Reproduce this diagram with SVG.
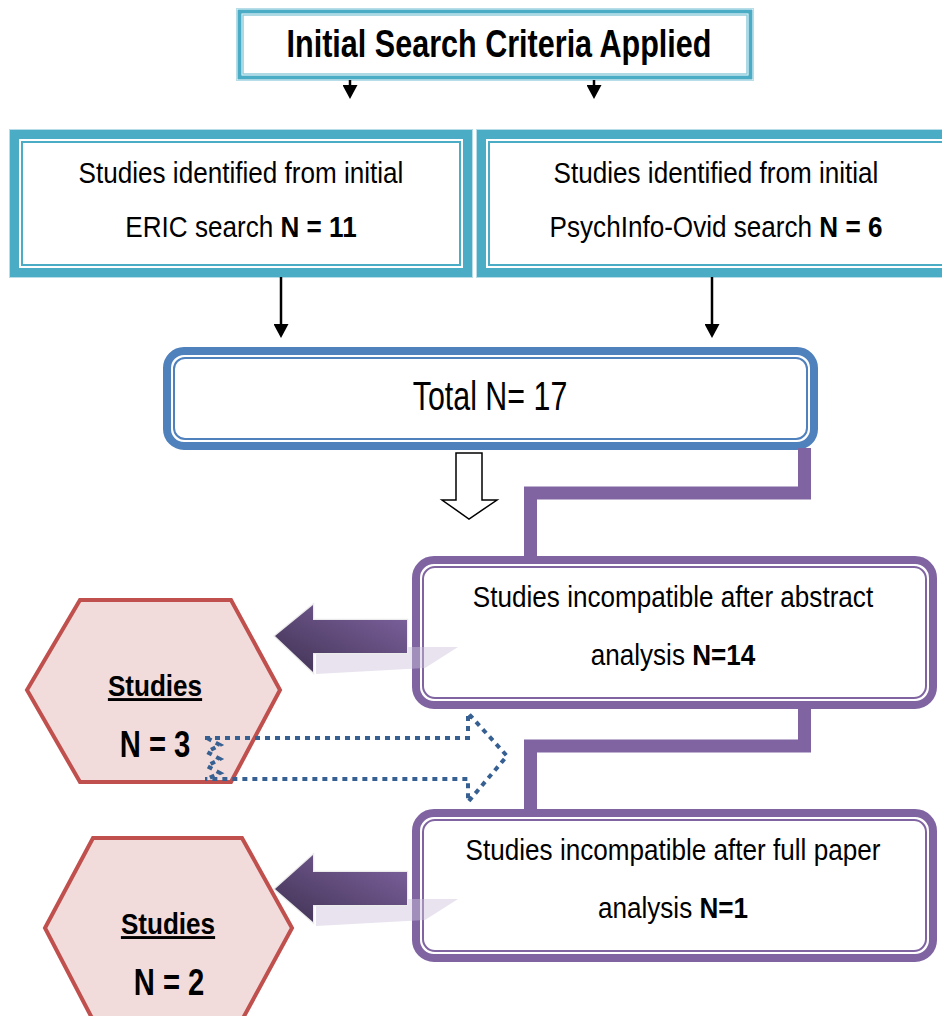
<svg xmlns="http://www.w3.org/2000/svg" width="942" height="1016" viewBox="0 0 942 1016">
  <style>
    .t { font-family: "Liberation Sans", Arial, sans-serif; fill: #000; text-anchor: middle; }
    .body { font-size: 29px; }
    .b { font-weight: bold; }
    .tealBand { fill: none; stroke: #4BACC6; stroke-width: 9; }
    .tealThin { fill: none; stroke: #4BACC6; stroke-width: 2; }
    .tealEdge { fill: none; stroke: #B6DDE8; stroke-width: 1; }
    .purpleBand { fill: #fff; stroke: #8064A2; stroke-width: 8; }
    .purpleThin { fill: none; stroke: #8064A2; stroke-width: 2; }
    .hex { fill: #F2DCDB; stroke: #C0504D; stroke-width: 4; stroke-linejoin: miter; }
    .arrowLine { stroke: #000; stroke-width: 2.5; fill: none; }
    .elbow { fill: none; stroke: #8064A2; stroke-width: 13; stroke-linejoin: miter; }
    .block { fill: url(#blockGrad); stroke: #EBEBEB; stroke-width: 2.5; paint-order: stroke; }
    .blockShadow { fill: #CCC1DA; opacity: 0.45; }
    .dotted { fill: none; stroke: #376092; stroke-width: 4; stroke-dasharray: 5 5; }
  </style>
  <defs>
    <marker id="head" markerUnits="userSpaceOnUse" markerWidth="14" markerHeight="15" viewBox="0 0 14 15" refX="2" refY="7.5" orient="auto">
      <path d="M0,0 L14,7.5 L0,15 z" fill="#000"/>
    </marker>
    <linearGradient id="blockGrad" x1="0" y1="1" x2="1" y2="0">
      <stop offset="0" stop-color="#3F3151"/>
      <stop offset="1" stop-color="#8064A2"/>
    </linearGradient>
  </defs>

  <rect width="942" height="1016" fill="#fff"/>

  <!-- title box -->
  <g id="node-title">
    <rect x="236.5" y="8.5" width="517" height="72" class="tealEdge"/>
    <rect x="239.5" y="11.5" width="511" height="66" fill="#fff" stroke="#4BACC6" stroke-width="4"/>
    <rect x="243" y="15" width="504" height="59" fill="none" stroke="#92CDDC" stroke-width="1.5"/>
    <g transform="translate(499,0) scale(0.804,1)">
      <text class="t b" x="0" y="57" font-size="38">Initial Search Criteria Applied</text>
    </g>
  </g>

  <!-- ERIC search box -->
  <g id="node-eric">
    <rect x="9.5" y="129.5" width="463" height="148" class="tealEdge"/>
    <rect x="14.5" y="134.5" width="453" height="138" fill="#fff" class="tealBand"/>
    <rect x="22" y="142" width="438" height="123" class="tealThin"/>
    <g transform="translate(241,0) scale(0.9,1)">
      <text class="t body" x="0" y="183">Studies identified from initial</text>
      <text class="t body" x="0" y="237">ERIC search <tspan class="b">N = 11</tspan></text>
    </g>
  </g>

  <!-- PsychInfo-Ovid search box -->
  <g id="node-psychinfo">
    <rect x="476.5" y="129.5" width="480" height="148" class="tealEdge"/>
    <rect x="481.5" y="134.5" width="470" height="138" fill="#fff" class="tealBand"/>
    <rect x="489" y="142" width="470" height="123" class="tealThin"/>
    <g transform="translate(716,0) scale(0.9,1)">
      <text class="t body" x="0" y="183">Studies identified from initial</text>
      <text class="t body" x="0" y="237">PsychInfo-Ovid search <tspan class="b">N = 6</tspan></text>
    </g>
  </g>

  <!-- total box -->
  <g id="node-total">
    <rect x="167" y="351" width="647" height="95" rx="17" fill="#fff" stroke="#4F81BD" stroke-width="8"/>
    <rect x="174" y="358" width="633" height="81" rx="11" fill="none" stroke="#4F81BD" stroke-width="2"/>
    <g transform="translate(490,0) scale(0.76,1)">
      <text class="t" x="0" y="410" font-size="40">Total N= 17</text>
    </g>
  </g>

  <!-- abstract screening box -->
  <g id="node-abstract">
    <rect x="416" y="560" width="517" height="145" rx="18" class="purpleBand"/>
    <rect x="423" y="567" width="503" height="131" rx="12" class="purpleThin"/>
    <g transform="translate(673,0) scale(0.9,1)">
      <text class="t body" x="0" y="607">Studies incompatible after abstract</text>
      <text class="t body" x="0" y="665">analysis <tspan class="b">N=14</tspan></text>
    </g>
  </g>

  <!-- full paper screening box -->
  <g id="node-fullpaper">
    <rect x="416" y="813" width="517" height="145" rx="18" class="purpleBand"/>
    <rect x="423" y="820" width="503" height="131" rx="12" class="purpleThin"/>
    <g transform="translate(673,0) scale(0.9,1)">
      <text class="t body" x="0" y="860">Studies incompatible after full paper</text>
      <text class="t body" x="0" y="918">analysis <tspan class="b">N=1</tspan></text>
    </g>
  </g>

  <!-- included studies after abstract screening -->
  <g id="node-included-3">
    <polygon class="hex" points="27,690 80,600 231,600 280,690 231,782 80,782"/>
    <g transform="translate(155,0) scale(0.9,1)">
      <text class="t b" x="0" y="696" font-size="29" text-decoration="underline">Studies</text>
    </g>
    <g transform="translate(155,0) scale(0.79,1)">
      <text class="t b" x="0" y="757" font-size="37">N = 3</text>
    </g>
  </g>

  <!-- included studies after full paper screening -->
  <g id="node-included-2">
    <polygon class="hex" points="45,928 93,838 242,838 292,928 242,1020 93,1020"/>
    <g transform="translate(168,0) scale(0.9,1)">
      <text class="t b" x="0" y="934" font-size="29" text-decoration="underline">Studies</text>
    </g>
    <g transform="translate(169,0) scale(0.79,1)">
      <text class="t b" x="0" y="995" font-size="37">N = 2</text>
    </g>
  </g>

  <!-- connectors -->
  <g id="connectors">
    <line class="arrowLine" x1="350" y1="80" x2="350" y2="87" marker-end="url(#head)"/>
    <line class="arrowLine" x1="594" y1="80" x2="594" y2="87" marker-end="url(#head)"/>
    <line class="arrowLine" x1="281" y1="277" x2="281" y2="326" marker-end="url(#head)"/>
    <line class="arrowLine" x1="712" y1="277" x2="712" y2="326" marker-end="url(#head)"/>

    <polygon points="456,453 482,453 482,500 497,500 469,519 442,500 456,500" fill="#fff" stroke="#000" stroke-width="1.5"/>

    <path class="elbow" d="M804.5,448 V493 H530.5 V560"/>
    <path class="elbow" d="M804.5,705 V746 H530.5 V813"/>

    <polygon class="blockShadow" points="316,647 458,647 425,668 316,674"/>
    <polygon class="block" points="275,636 313,605 313,620 407,620 407,653 313,653 313,672"/>
    <polygon class="blockShadow" points="316,899 458,899 425,920 316,926"/>
    <polygon class="block" points="275,889 313,855 313,872 407,872 407,905 313,905 313,922"/>

    <path class="dotted" d="M205,738 H468 V713 L507,756 L468,802 V779 H205"/>
    <path class="dotted" d="M207,738 L220,745 L207,752 L220,759 L207,766 L220,773 L207,779"/>
  </g>
</svg>
